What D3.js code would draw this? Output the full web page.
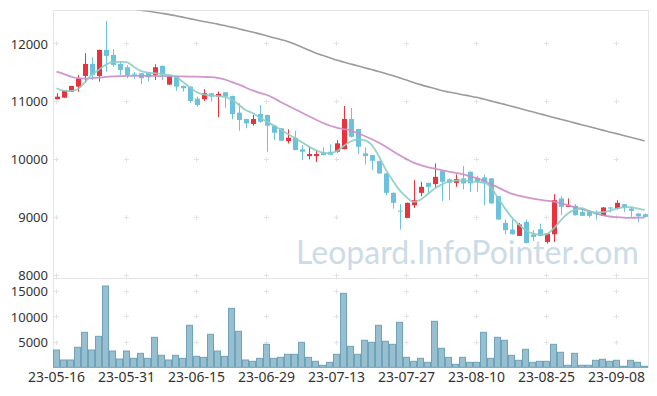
<!DOCTYPE html>
<html>
<head>
<meta charset="utf-8">
<script src="https://cdn.jsdelivr.net/npm/d3@7"></script>
<style>
  body { margin: 0; background: #fff; }
  svg { display: block; }
</style>
</head>
<body>
<div id="chart"></div>
<script>
// trading days (categories)
var dates = ["23-05-16","23-05-17","23-05-18","23-05-19","23-05-22","23-05-23","23-05-24","23-05-25","23-05-26","23-05-30",
  "23-05-31","23-06-01","23-06-02","23-06-05","23-06-07","23-06-08","23-06-09","23-06-12","23-06-13","23-06-14",
  "23-06-15","23-06-16","23-06-19","23-06-20","23-06-21","23-06-22","23-06-23","23-06-26","23-06-27","23-06-28",
  "23-06-29","23-06-30","23-07-03","23-07-04","23-07-05","23-07-06","23-07-07","23-07-10","23-07-11","23-07-12",
  "23-07-13","23-07-14","23-07-17","23-07-18","23-07-19","23-07-20","23-07-21","23-07-24","23-07-25","23-07-26",
  "23-07-27","23-07-28","23-07-31","23-08-01","23-08-02","23-08-03","23-08-04","23-08-07","23-08-08","23-08-09",
  "23-08-10","23-08-11","23-08-14","23-08-16","23-08-17","23-08-18","23-08-21","23-08-22","23-08-23","23-08-24",
  "23-08-25","23-08-28","23-08-29","23-08-30","23-08-31","23-09-01","23-09-04","23-09-05","23-09-06","23-09-07",
  "23-09-08","23-09-11","23-09-12","23-09-13","23-09-14"];

var open = [11042,11069,11173,11260,11445,11653,11445,11896,11809,11653,
  11596,11485,11492,11503,11463,11619,11295,11445,11272,11260,
  11052,11042,11146,11087,11163,11099,10810,10700,10614,10787,
  10770,10585,10539,10319,10376,10175,10059,10059,10123,10134,
  10134,10180,10700,10527,10106,10076,9972,9759,9423,9115,
  8990,9210,9423,9596,9574,9799,9657,9596,9673,9788,
  9683,9690,9673,9366,8903,8789,8678,8920,8702,8794,
  8574,8707,9326,9181,9198,9094,9094,9077,9025,9170,
  9152,9227,9152,9065,9054];
var high = [11146,11191,11272,11463,11839,11769,11900,12399,11908,11693,
  11631,11515,11497,11510,11648,11625,11450,11450,11280,11265,
  11087,11215,11150,11173,11170,11105,10972,10705,10770,10943,
  10775,10590,10545,10521,10497,10250,10210,10151,10210,10262,
  10336,10926,10890,10530,10210,10080,9980,9765,9430,9227,
  9255,9643,9614,9600,9932,9805,9673,9742,9886,9795,
  9718,9742,9680,9370,8962,8962,8903,8962,8777,8892,
  8730,9400,9366,9326,9227,9135,9123,9123,9175,9175,
  9296,9230,9180,9077,9065];
var low = [11042,11069,11173,11173,11329,11376,11347,11520,11607,11463,
  11405,11393,11307,11347,11376,11376,11290,11191,11173,10983,
  10913,11012,11000,10730,10896,10695,10497,10539,10585,10636,
  10134,10336,10320,10278,10160,9990,10002,9955,10070,10076,
  10117,10175,10380,10094,9915,9816,9750,9383,9152,8789,
  8985,9163,9366,9412,9516,9284,9296,9527,9482,9441,
  9441,9210,9235,8955,8707,8700,8675,8550,8591,8675,
  8546,8574,9036,9178,9030,9020,8997,8962,9020,9083,
  9135,9094,9007,8920,8997];
var close = [11087,11191,11272,11399,11653,11463,11896,11792,11636,11549,
  11463,11475,11405,11423,11596,11463,11445,11260,11232,11012,
  10943,11146,11087,11134,11087,10787,10683,10625,10700,10653,
  10585,10463,10325,10376,10163,10134,10094,10094,10076,10082,
  10279,10700,10393,10220,10059,9977,9759,9423,9250,9100,
  9250,9296,9527,9527,9700,9614,9596,9660,9586,9586,
  9614,9586,9240,8962,8777,8707,8875,8556,8661,8678,
  8718,9296,9181,9210,9036,9025,9025,9054,9170,9152,
  9250,9170,9111,9019,9007];
var volume = [3430,1450,1450,3970,6940,3430,6150,16130,3230,1650,
  3230,1780,2770,1780,5950,2380,1450,2380,1780,8330,
  2180,1980,6550,3230,2180,11700,7140,1450,1190,1780,
  4560,1780,1980,2580,2580,4960,1980,1190,400,990,
  2580,14680,4170,2580,5360,4960,8330,5160,4560,8930,
  1980,1190,1780,990,9130,3770,1980,600,1980,990,
  990,6940,1780,5950,5360,2380,1390,3570,990,1190,
  1190,4560,2980,400,2770,400,400,1390,1590,1190,
  1390,200,1390,990,200];
// moving averages as drawn (5, 20, 120 days)
var ma5 = [11232,11191,11186,11215,11329,11463,11549,11636,11683,11688,
  11683,11607,11532,11503,11492,11480,11463,11433,11347,11250,
  11168,11125,11108,11099,11082,11038,10952,10856,10804,10726,
  10657,10591,10517,10444,10374,10302,10227,10163,10120,10111,
  10142,10229,10310,10348,10336,10258,10068,9834,9643,9470,
  9349,9267,9305,9400,9496,9565,9617,9634,9638,9621,
  9612,9608,9522,9349,9167,9002,8881,8777,8721,8699,
  8707,8803,8941,9063,9128,9158,9115,9083,9089,9113,
  9149,9172,9175,9153,9123];
var ma20 = [11520,11480,11437,11406,11399,11406,11416,11428,11437,11442,
  11445,11445,11445,11445,11445,11442,11440,11439,11437,11433,
  11432,11428,11423,11411,11385,11341,11298,11246,11194,11154,
  11120,11064,10995,10934,10874,10813,10752,10692,10636,10588,
  10553,10527,10501,10458,10406,10354,10293,10224,10146,10076,
  10007,9946,9903,9868,9842,9816,9790,9770,9747,9712,
  9678,9635,9574,9522,9461,9409,9375,9349,9323,9305,
  9288,9271,9245,9210,9175,9141,9106,9071,9037,9014,
  9002,8993,8990,8993,8997];
var ma120 = [12808,12789,12769,12752,12733,12714,12697,12678,12659,12641,
  12622,12603,12584,12567,12548,12529,12510,12487,12463,12437,
  12412,12388,12366,12341,12317,12289,12262,12232,12204,12173,
  12140,12107,12075,12042,11997,11945,11893,11844,11802,11761,
  11719,11686,11653,11620,11588,11555,11523,11489,11452,11413,
  11373,11333,11295,11260,11227,11192,11168,11146,11121,11099,
  11075,11045,11014,10984,10953,10922,10889,10856,10825,10792,
  10761,10728,10697,10666,10633,10601,10570,10539,10508,10477,
  10447,10416,10385,10354,10322];

var priceTicks = [8000, 9000, 10000, 11000, 12000];
var volTicks = [5000, 10000, 15000];
var dateTicks = dates.filter(function (d, i) { return i % 10 == 0; });

var width = 657, height = 396;
var pLeft = 53, pRight = 648, pTop = 10.5, pMid = 278.3, pBottom = 367.3;

var svg = d3.select("#chart").append("svg")
  .attr("width", width)
  .attr("height", height)
  .style("font-family", "'Noto Sans', sans-serif");

var x = d3.scaleBand().domain(dates).range([pLeft, pRight]).padding(0);
var bw = x.bandwidth();
var cx = function (i) { return x(dates[i]) + bw / 2; };
var y = d3.scaleLinear().domain([7945, 12577]).range([pMid, pTop]);
var yv = d3.scaleLinear().domain([0, 17660]).range([pBottom, pMid]);

var upColor = "#ea323c", downColor = "#6cc1dc";

// watermark
svg.append("text")
  .attr("x", 296)
  .attr("y", 263.5)
  .attr("font-family", "Lato, sans-serif")
  .attr("font-size", 32)
  .attr("fill", "#cbdce7")
  .text("Leopard.InfoPointer.com");

// grid crosses
var crosses = [];
dateTicks.forEach(function (d) {
  priceTicks.forEach(function (p) { crosses.push([x(d) + bw / 2, y(p)]); });
  volTicks.forEach(function (v) { crosses.push([x(d) + bw / 2, yv(v)]); });
});
svg.append("g").selectAll("path").data(crosses).join("path")
  .attr("d", function (c) { return "M" + (c[0] - 2.5) + "," + c[1] + "H" + (c[0] + 2.5) + "M" + c[0] + "," + (c[1] - 2.5) + "V" + (c[1] + 2.5); })
  .attr("stroke", "#e3e3e3")
  .attr("stroke-width", 1)
  .attr("shape-rendering", "crispEdges");

// frame
var frame = svg.append("g").attr("stroke", "#e4e4e4").attr("fill", "none").attr("shape-rendering", "crispEdges");
frame.append("rect").attr("x", pLeft).attr("y", pTop).attr("width", pRight - pLeft).attr("height", pBottom - pTop);
frame.append("line").attr("x1", pLeft).attr("x2", pRight).attr("y1", pMid).attr("y2", pMid);

// clip for price panel
svg.append("defs").append("clipPath").attr("id", "clipPrice")
  .append("rect").attr("x", pLeft).attr("y", pTop).attr("width", pRight - pLeft).attr("height", pMid - pTop);

var idx = d3.range(dates.length);

// volume bars
svg.append("g").selectAll("rect").data(idx).join("rect")
  .attr("x", function (i) { return x(dates[i]) + 0.5; })
  .attr("y", function (i) { return yv(volume[i]); })
  .attr("width", bw - 1)
  .attr("height", function (i) { return pBottom - yv(volume[i]); })
  .attr("fill", "#98bfcf")
  .attr("stroke", "#6fa3ba")
  .attr("stroke-width", 1);

var plot = svg.append("g").attr("clip-path", "url(#clipPrice)");

// candles
var candles = plot.append("g").selectAll("g").data(idx).join("g");
candles.append("line")
  .attr("x1", function (i) { return Math.round(cx(i)) + 0.5; })
  .attr("x2", function (i) { return Math.round(cx(i)) + 0.5; })
  .attr("y1", function (i) { return y(high[i]); })
  .attr("y2", function (i) { return y(low[i]); })
  .attr("stroke", function (i) { return close[i] >= open[i] ? upColor : downColor; })
  .attr("stroke-width", 1);
candles.append("rect")
  .attr("x", function (i) { return Math.round(cx(i)) - 2; })
  .attr("y", function (i) { return y(Math.max(open[i], close[i])); })
  .attr("width", 5)
  .attr("height", function (i) { return Math.max(1, Math.abs(y(open[i]) - y(close[i]))); })
  .attr("fill", function (i) { return close[i] >= open[i] ? upColor : downColor; });

// moving average lines
var maLine = function (arr) {
  return d3.line().curve(d3.curveMonotoneX)
    .x(function (i) { return cx(i); })
    .y(function (i) { return y(arr[i]); })(idx);
};
plot.append("path").attr("d", maLine(ma120)).attr("fill", "none").attr("stroke", "#9b9b9b").attr("stroke-width", 1.6);
plot.append("path").attr("d", maLine(ma20)).attr("fill", "none").attr("stroke", "#cc8cc8").attr("stroke-width", 1.8).attr("opacity", 0.9);
plot.append("path").attr("d", maLine(ma5)).attr("fill", "none").attr("stroke", "#8ccdc3").attr("stroke-width", 1.8).attr("opacity", 0.9);

// axes
var styleAxis = function (g, size) {
  g.select(".domain").remove();
  g.selectAll("text").attr("fill", "#333").attr("font-size", size).attr("font-family", "'Noto Sans', sans-serif");
};
svg.append("g").attr("transform", "translate(" + pLeft + ",0)")
  .call(d3.axisLeft(y).tickValues(priceTicks).tickSize(0).tickPadding(5).tickFormat(d3.format("d")))
  .call(styleAxis, 13);
svg.append("g").attr("transform", "translate(" + pLeft + ",0)")
  .call(d3.axisLeft(yv).tickValues(volTicks).tickSize(0).tickPadding(5).tickFormat(d3.format("d")))
  .call(styleAxis, 13);
svg.append("g").attr("transform", "translate(0," + pBottom + ")")
  .call(d3.axisBottom(x).tickValues(dateTicks).tickSize(0).tickPadding(5))
  .call(styleAxis, 14);
</script>
</body>
</html>
